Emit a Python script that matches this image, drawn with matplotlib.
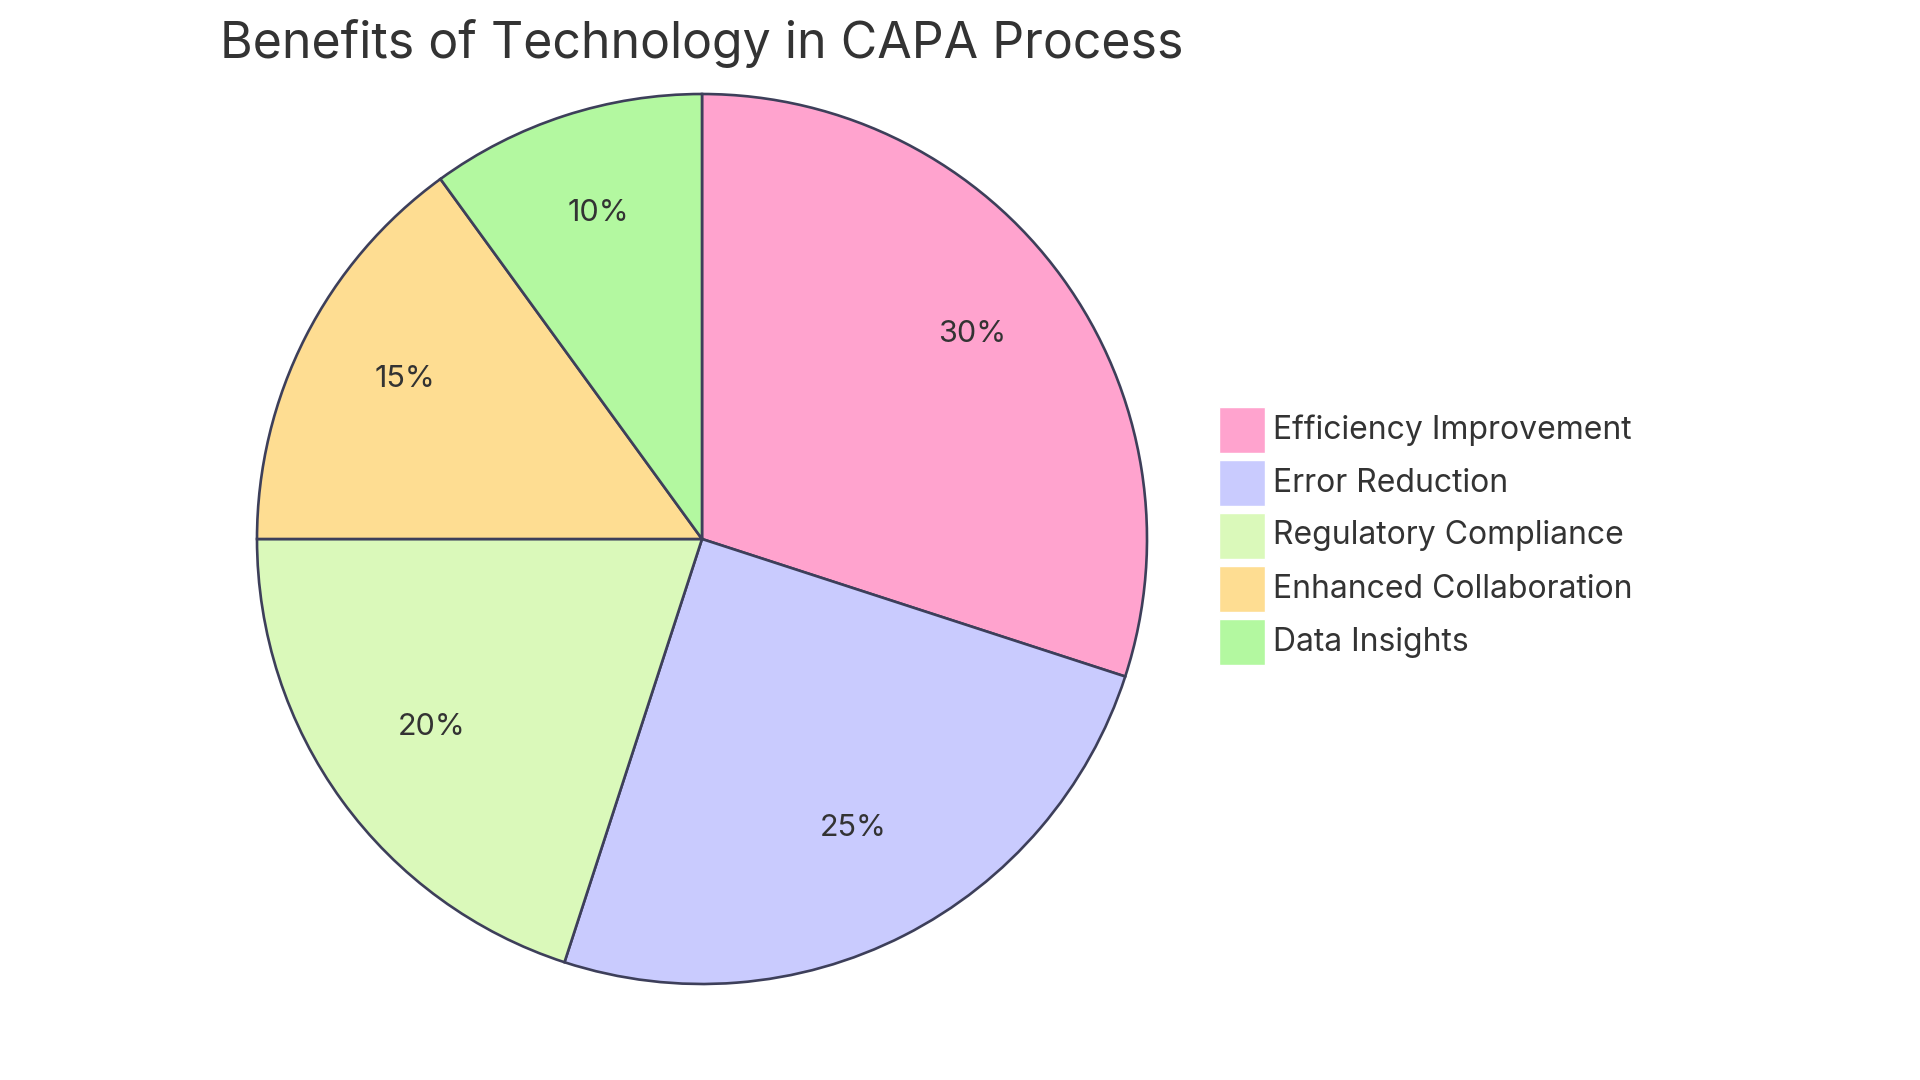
import matplotlib.pyplot as plt
from matplotlib.patches import Rectangle

labels = ["Efficiency Improvement", "Error Reduction", "Regulatory Compliance",
          "Enhanced Collaboration", "Data Insights"]
values = [30, 25, 20, 15, 10]
colors = ["#FFA3CE", "#C9CBFE", "#DAF9BA", "#FEDD92", "#B3F8A0"]

plt.rcParams['font.family'] = ['Inter', 'DejaVu Sans']

W, H = 1920, 1080
fig = plt.figure(figsize=(19.2, 10.8), dpi=100)
# pie centre ~ (702, 539) px, radius ~ 445 px
ax = fig.add_axes([(702 - 445) / W, (H - 539 - 445) / H, 890 / W, 890 / H])

wedges, texts, autotexts = ax.pie(
    values, colors=colors, startangle=90, counterclock=False,
    autopct='%1.0f%%', pctdistance=0.75,
    wedgeprops=dict(edgecolor="#3D3F5A", linewidth=1.9),
    textprops=dict(fontsize=22, color="#333333"))
for t in autotexts:
    x, y = t.get_position()
    t.set_position((x, y + 0.019))
ax.set_xlim(-1.0, 1.0)
ax.set_ylim(-1.0, 1.0)
ax.set_aspect('equal')
ax.axis('off')

fig.text(220 / W, 1 - 43 / H, "Benefits of Technology in CAPA Process",
         fontsize=36, color="#333333", va='center', ha='left')

# legend drawn by hand: 46 px squares, 53 px row step
sq, step, top, left = 46, 53, 407, 1219
for i, (lab, col) in enumerate(zip(labels, colors)):
    y0 = top + i * step
    fig.patches.append(Rectangle((left / W, 1 - (y0 + sq) / H), sq / W, sq / H,
                                 facecolor=col, edgecolor="white", linewidth=1,
                                 transform=fig.transFigure, figure=fig))
    fig.text((left + sq + 8) / W, 1 - (y0 + sq / 2) / H, lab, fontsize=23,
             color="#333333", va='center', ha='left')

fig.savefig("out.png", dpi=100, facecolor="white")
